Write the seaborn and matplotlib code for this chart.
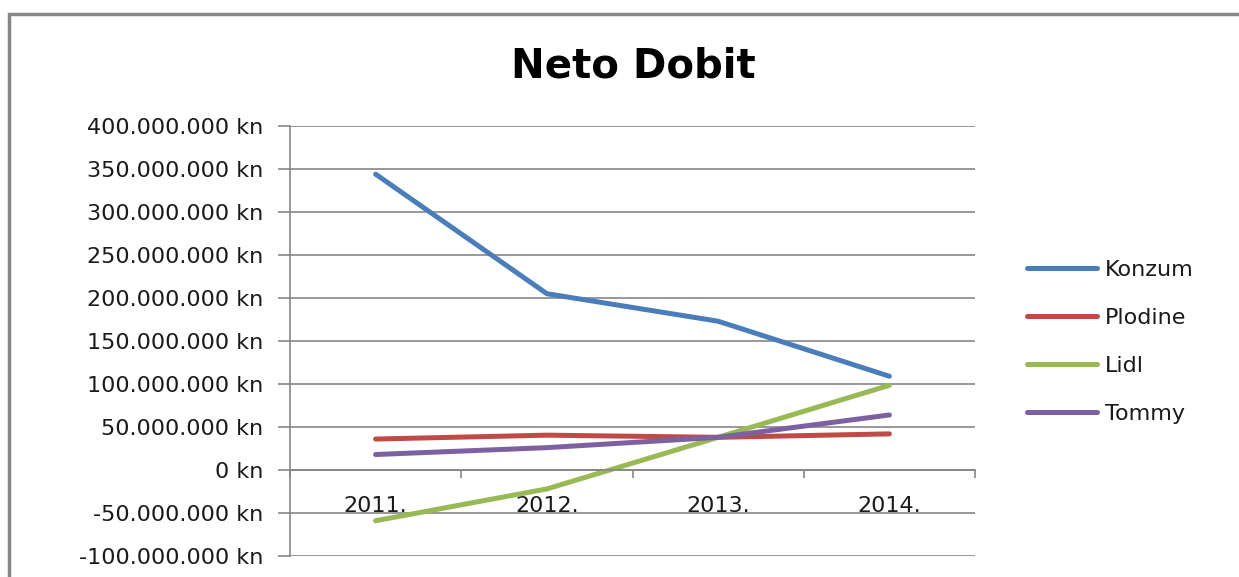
import numpy as np
import pandas as pd
import seaborn as sns
import matplotlib.pyplot as plt
from matplotlib.patches import Rectangle
from matplotlib.ticker import FuncFormatter, FixedLocator

# data (kn)
years = ['2011.', '2012.', '2013.', '2014.']
konzum = [344e6, 205e6, 173e6, 109e6]
plodine = [36e6, 40.5e6, 38e6, 42e6]
lidl = [-59e6, -22e6, 38e6, 98.5e6]
tommy = [18e6, 26e6, 38e6, 64e6]
companies = ['Konzum', 'Plodine', 'Lidl', 'Tommy']
colors = ['#4A7EBB', '#BE4B48', '#98B954', '#7D60A0']

df = pd.DataFrame({
    'godina': years * 4,
    'pos': list(range(len(years))) * 4,
    'dobit': konzum + plodine + lidl + tommy,
    'trgovac': [c for c in companies for _ in years],
})

sns.set_style('white')
plt.rcParams['font.family'] = ['DejaVu Sans']

fig = plt.figure(figsize=(12.39, 5.77), dpi=100)
ax = fig.add_axes([290 / 1239, 1 - 556 / 577, (975 - 290) / 1239, (556 - 126) / 577])

sns.lineplot(data=df, x='pos', y='dobit', hue='trgovac', palette=colors,
             linewidth=3.6, ax=ax, legend=True)

grid_c = '#868686'
fs = 16
ax.set_xlim(-0.5, 3.5)
ax.set_ylim(-100e6, 400e6)
ax.set_yticks(np.arange(-100e6, 400e6 + 1, 50e6))
ax.yaxis.set_major_formatter(FuncFormatter(
    lambda v, p: '0 kn' if v == 0 else f'{int(v):,} kn'.replace(',', '.')))
ax.yaxis.grid(True, color=grid_c, linewidth=1.2)
ax.set_axisbelow(True)

# x axis sits on the zero line, labels centred on categories
ax.spines['bottom'].set_position(('data', 0))
ax.xaxis.set_major_locator(FixedLocator([-0.5, 0.5, 1.5, 2.5, 3.5]))
ax.xaxis.set_major_formatter(FuncFormatter(lambda v, p: ''))
ax.xaxis.set_minor_locator(FixedLocator(range(len(years))))
ax.set_xticklabels(years, minor=True)
ax.tick_params(axis='x', which='major', direction='out', length=6, width=1.2, color=grid_c, bottom=True)
ax.tick_params(axis='x', which='minor', length=0, pad=19, labelsize=fs, labelcolor='#1a1a1a')
ax.tick_params(axis='y', direction='out', length=8.5, width=1.2, color=grid_c, left=True,
               labelsize=fs, labelcolor='#1a1a1a', pad=11)

for s in ['top', 'right']:
    ax.spines[s].set_visible(False)
for s in ['left', 'bottom']:
    ax.spines[s].set_color(grid_c)
    ax.spines[s].set_linewidth(1.2)

ax.set_xlabel('')
ax.set_ylabel('')

handles, labels = ax.get_legend_handles_labels()
leg = ax.legend(handles, labels, loc='center left', bbox_to_anchor=(1007 / 1239, 1 - 342 / 577),
                bbox_transform=fig.transFigure, frameon=False, fontsize=fs,
                handlelength=3.15, labelspacing=1.26, handletextpad=0.36)
for t in leg.get_texts():
    t.set_color('#1a1a1a')

fig.text(633 / 1239, 1 - 66 / 577, 'Neto Dobit', ha='center', va='center',
         fontsize=29, fontweight='bold', color='black')

fig.patches.append(Rectangle((9 / 1239, -0.1), 1.2, 1.1 - 14 / 577, transform=fig.transFigure,
                             fill=False, edgecolor=grid_c, linewidth=2.5))

fig.savefig('out.png', dpi=100)
